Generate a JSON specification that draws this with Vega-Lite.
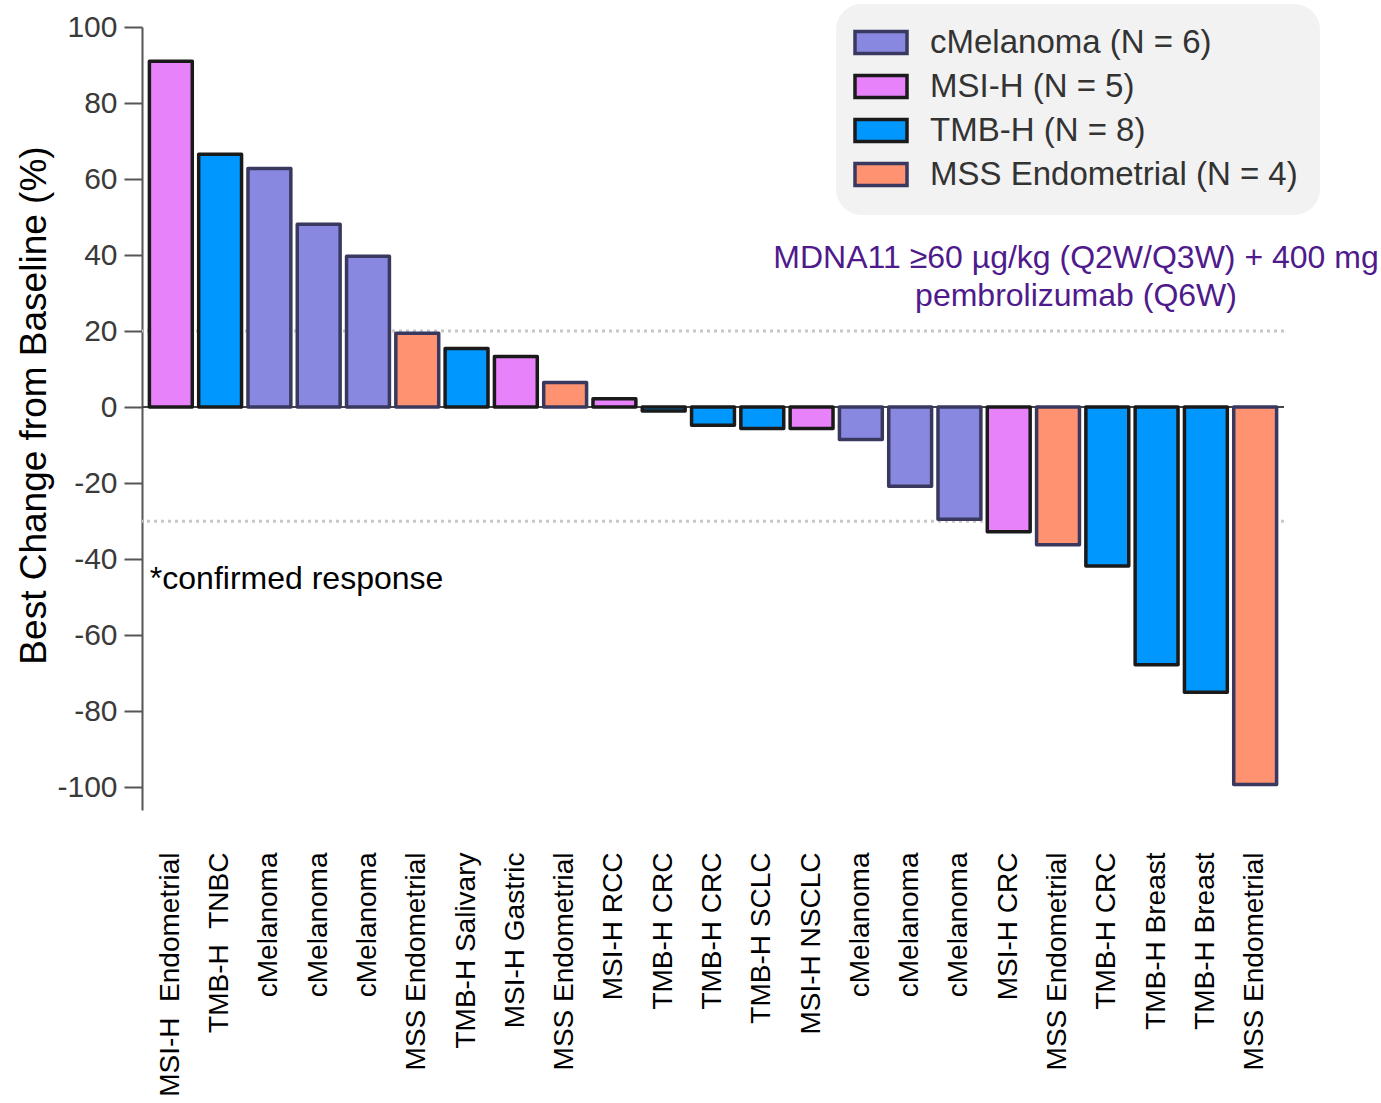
{
  "$schema": "https://vega.github.io/schema/vega-lite/v6.json",
  "autosize": "none",
  "width": 1142,
  "height": 783,
  "padding": {"left": 142, "top": 27, "right": 97, "bottom": 293},
  "background": "white",
  "config": {
    "font": "Liberation Sans",
    "view": {"stroke": null}
  },
  "datasets": {
    "bars": [
      {"name": "MSI-H\u00a0\u00a0Endometrial", "group": "MSI-H (N = 5)", "value": 91},
      {"name": "TMB-H\u00a0\u00a0TNBC", "group": "TMB-H (N = 8)", "value": 66.5},
      {"name": "cMelanoma", "group": "cMelanoma (N = 6)", "value": 62.8},
      {"name": "cMelanoma\u200b", "group": "cMelanoma (N = 6)", "value": 48.1},
      {"name": "cMelanoma\u200b\u200b", "group": "cMelanoma (N = 6)", "value": 39.7},
      {"name": "MSS Endometrial", "group": "MSS Endometrial (N = 4)", "value": 19.4},
      {"name": "TMB-H Salivary", "group": "TMB-H (N = 8)", "value": 15.4},
      {"name": "MSI-H Gastric", "group": "MSI-H (N = 5)", "value": 13.3},
      {"name": "MSS Endometrial\u200b", "group": "MSS Endometrial (N = 4)", "value": 6.5},
      {"name": "MSI-H RCC", "group": "MSI-H (N = 5)", "value": 2.2},
      {"name": "TMB-H CRC", "group": "TMB-H (N = 8)", "value": -1},
      {"name": "TMB-H CRC\u200b", "group": "TMB-H (N = 8)", "value": -4.8},
      {"name": "TMB-H SCLC", "group": "TMB-H (N = 8)", "value": -5.6},
      {"name": "MSI-H NSCLC", "group": "MSI-H (N = 5)", "value": -5.6},
      {"name": "cMelanoma\u200b\u200b\u200b", "group": "cMelanoma (N = 6)", "value": -8.5},
      {"name": "cMelanoma\u200b\u200b\u200b\u200b", "group": "cMelanoma (N = 6)", "value": -20.8},
      {"name": "cMelanoma\u200b\u200b\u200b\u200b\u200b", "group": "cMelanoma (N = 6)", "value": -29.5},
      {"name": "MSI-H CRC", "group": "MSI-H (N = 5)", "value": -32.8},
      {"name": "MSS Endometrial\u200b\u200b", "group": "MSS Endometrial (N = 4)", "value": -36.2},
      {"name": "TMB-H CRC\u200b\u200b", "group": "TMB-H (N = 8)", "value": -41.8},
      {"name": "TMB-H Breast", "group": "TMB-H (N = 8)", "value": -67.8},
      {"name": "TMB-H Breast\u200b", "group": "TMB-H (N = 8)", "value": -75},
      {"name": "MSS Endometrial\u200b\u200b\u200b", "group": "MSS Endometrial (N = 4)", "value": -99.3}
    ],
    "refs": [{"ref": 20}, {"ref": -30}],
    "notes": [
      {"name": "MSS Endometrial\u200b\u200b", "y": 39.2, "note": "MDNA11 ≥60 µg/kg (Q2W/Q3W) + 400 mg"},
      {"name": "MSS Endometrial\u200b\u200b", "y": 29.2, "note": "pembrolizumab (Q6W)"}
    ],
    "confirmed": [
      {"name": "MSI-H\u00a0\u00a0Endometrial", "y": -45.3, "note": "*confirmed response"}
    ]
  },
  "layer": [
    {
      "data": {"name": "refs"},
      "mark": {"type": "rule", "color": "#c8c8c8", "strokeWidth": 3, "strokeDash": [3, 4]},
      "encoding": {
        "y": {"field": "ref", "type": "quantitative"}
      }
    },
    {
      "data": {"name": "bars"},
      "mark": {"type": "rule", "color": "#444444", "strokeWidth": 2},
      "encoding": {
        "y": {"datum": 0, "type": "quantitative"}
      }
    },
    {
      "data": {"name": "bars"},
      "mark": {"type": "bar", "strokeWidth": 3.5, "strokeJoin": "round"},
      "encoding": {
        "x": {
          "field": "name",
          "type": "nominal",
          "sort": null,
          "scale": {"paddingInner": 0.13, "paddingOuter": 0.15},
          "axis": {
            "title": null,
            "domain": false,
            "ticks": false,
            "labelAngle": -90,
            "labelPadding": 42,
            "labelFontSize": 28,
            "labelLimit": 0,
            "labelColor": "#000000",
            "labelFont": "Liberation Sans"
          }
        },
        "y": {
          "field": "value",
          "type": "quantitative",
          "scale": {"domain": [-106, 100], "nice": false, "zero": false},
          "axis": {
            "title": "Best Change from Baseline (%)",
            "titleFontSize": 37,
            "titleFontWeight": "normal",
            "titleColor": "#000000",
            "titlePadding": 3,
            "titleY": 378,
            "values": [-100, -90, -80, -70, -60, -50, -40, -30, -20, -10, 0, 10, 20, 30, 40, 50, 60, 70, 80, 90, 100],
            "labelExpr": "datum.value % 20 === 0 ? replace(datum.label, '−', '-') : ''",
            "labelFontSize": 30,
            "labelColor": "#3a3a3a",
            "labelPadding": 7,
            "grid": false,
            "domainColor": "#555555",
            "domainWidth": 2,
            "tickColor": "#555555",
            "tickWidth": 2,
            "tickSize": {"condition": {"test": "datum.value % 20 === 0", "value": 18}, "value": 10}
          }
        },
        "fill": {
          "field": "group",
          "type": "nominal",
          "scale": {
            "domain": ["cMelanoma (N = 6)", "MSI-H (N = 5)", "TMB-H (N = 8)", "MSS Endometrial (N = 4)"],
            "range": ["#8888e0", "#e882fa", "#0098ff", "#ff9270"]
          },
          "legend": {
            "title": null,
            "orient": "none",
            "legendX": 694,
            "legendY": -23,
            "fillColor": "#f2f2f2",
            "cornerRadius": 26,
            "padding": 22,
            "labelFontSize": 33,
            "labelLimit": 0,
            "labelColor": "#333333",
            "labelFont": "Liberation Sans",
            "symbolType": "M-1.5,-0.85H2.5V0.85H-1.5Z",
            "symbolSize": 676,
            "symbolStrokeWidth": 3.5,
            "symbolOpacity": 1,
            "rowPadding": 7,
            "labelOffset": 39
          }
        },
        "stroke": {
          "field": "group",
          "type": "nominal",
          "scale": {
            "domain": ["cMelanoma (N = 6)", "MSI-H (N = 5)", "TMB-H (N = 8)", "MSS Endometrial (N = 4)"],
            "range": ["#393960", "#1a1a1a", "#1a1a1a", "#393960"]
          }
        }
      }
    },
    {
      "data": {"name": "notes"},
      "mark": {"type": "text", "fontSize": 32, "color": "#4f1a8c", "align": "center", "baseline": "middle", "dx": 18},
      "encoding": {
        "x": {"field": "name", "type": "nominal", "sort": null},
        "y": {"field": "y", "type": "quantitative"},
        "text": {"field": "note"}
      }
    },
    {
      "data": {"name": "confirmed"},
      "mark": {"type": "text", "fontSize": 32, "color": "#000000", "align": "left", "baseline": "middle", "dx": -21},
      "encoding": {
        "x": {"field": "name", "type": "nominal", "sort": null},
        "y": {"field": "y", "type": "quantitative"},
        "text": {"field": "note"}
      }
    }
  ]
}
